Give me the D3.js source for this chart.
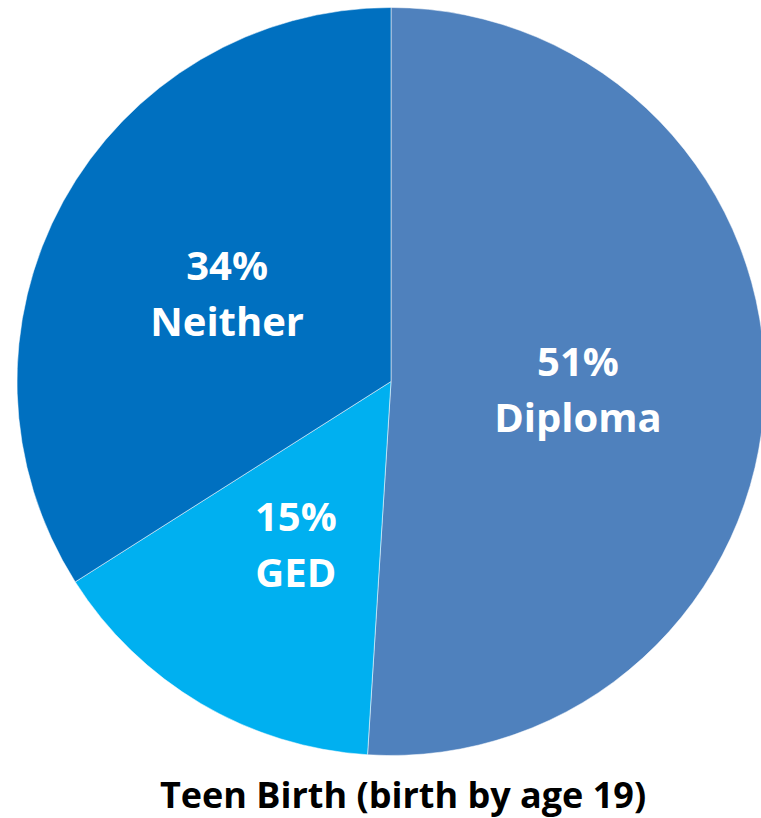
<!DOCTYPE html>
<html>
<head>
<meta charset="utf-8">
<script src="https://cdn.jsdelivr.net/npm/d3@7"></script>
<style>
  html, body { margin: 0; padding: 0; background: #ffffff; }
  svg { display: block; }
</style>
</head>
<body>
<svg id="chart" width="761" height="818"></svg>
<script>
const categories = ["Diploma", "GED", "Neither"];
const values = [51, 15, 34];
const percentLabels = ["51%", "15%", "34%"];
const colors = ["#4F81BD", "#00B0F0", "#0070C0"];
const title = "Teen Birth (birth by age 19)";

const width = 761, height = 818;
const cx = 391, cy = 381.5, radius = 374;
const fontFamily = "'Open Sans', 'Liberation Sans', sans-serif";

const svg = d3.select("#chart");
const g = svg.append("g").attr("transform", `translate(${cx},${cy})`);

const pie = d3.pie().sort(null).value(d => d.value).startAngle(0).endAngle(2 * Math.PI);
const data = categories.map((c, i) => ({ name: c, value: values[i], pct: percentLabels[i], color: colors[i] }));
const arcs = pie(data);

const arc = d3.arc().innerRadius(0).outerRadius(radius);
const labelArc = d3.arc().innerRadius(radius * 0.5).outerRadius(radius * 0.5);

g.selectAll("path.slice")
  .data(arcs)
  .join("path")
  .attr("class", "slice")
  .attr("d", arc)
  .attr("fill", d => d.data.color)
  .attr("stroke", "rgba(255,255,255,0.5)")
  .attr("stroke-width", 1);

const labels = g.selectAll("text.lbl")
  .data(arcs)
  .join("text")
  .attr("class", "lbl")
  .attr("transform", d => `translate(${labelArc.centroid(d)})`)
  .attr("text-anchor", "middle")
  .attr("fill", "#ffffff")
  .attr("font-family", fontFamily)
  .attr("font-weight", "bold")
  .attr("font-size", 40);

labels.append("tspan").attr("x", 0).attr("y", -11).text(d => d.data.pct);
labels.append("tspan").attr("x", 0).attr("y", 45).text(d => d.data.name);

svg.append("text")
  .attr("x", 403)
  .attr("y", 808)
  .attr("text-anchor", "middle")
  .attr("font-family", fontFamily)
  .attr("font-weight", "bold")
  .attr("font-size", 36)
  .attr("fill", "#000000")
  .text(title);
</script>
</body>
</html>
